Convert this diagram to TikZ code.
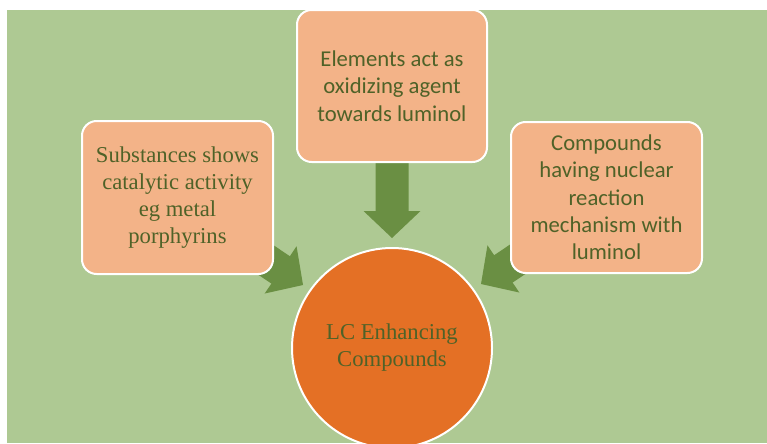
\documentclass[tikz,border=0pt]{standalone}
\usepackage{fontspec}
\setmainfont{Liberation Serif}
\newfontfamily\calibri{Carlito}
\definecolor{bggreen}{RGB}{174,201,147}
\definecolor{boxfill}{RGB}{243,179,136}
\definecolor{circfill}{RGB}{228,112,37}
\definecolor{arrowgreen}{RGB}{106,143,67}
\definecolor{textgreen}{RGB}{79,98,40}
\tikzset{
  box/.style={rectangle, rounded corners=11pt, draw=white, line width=1.5pt,
    fill=boxfill, text=textgreen, align=center, inner sep=0pt},
  serifbox/.style={box, font={\fontsize{17pt}{20.3pt}\selectfont}},
  sansbox/.style={box, font={\calibri\fontsize{17pt}{20.5pt}\selectfont}},
  centre/.style={circle, draw=white, line width=1.5pt, fill=circfill,
    text=textgreen, align=center, inner sep=0pt, minimum size=150pt,
    font={\fontsize{17pt}{20.3pt}\selectfont}},
  blockarrow/.style={fill=arrowgreen, draw=none}
}
\begin{document}
\begin{tikzpicture}[x=0.75pt,y=-0.75pt]
\useasboundingbox (0,0) rectangle (767,443);
\clip (0,0) rectangle (767,443);
\fill[white] (0,0) rectangle (767,443);
\fill[bggreen] (7,10) rectangle (767,443);

% node positions
\coordinate (lpos) at (177.5,197.5);
\coordinate (tpos) at (392,86);
\coordinate (rpos) at (606.5,197.5);
\coordinate (cpos) at (392,348);

% block arrows (drawn first so that boxes cover their tails)
\coordinate (ltip) at (303,285);
\coordinate (ttip) at (392,238);
\coordinate (rtip) at (481,284);
\begin{scope}[shift={(ltip)}, rotate=-34]
  \fill[blockarrow] (0,0) -- (-27,28.5) -- (-27,16.5) -- (-85,16.5) -- (-85,-16.5) -- (-27,-16.5) -- (-27,-28.5) -- cycle;
\end{scope}
\begin{scope}[shift={(ttip)}, rotate=-90]
  \fill[blockarrow] (0,0) -- (-27,28.5) -- (-27,16.5) -- (-90,16.5) -- (-90,-16.5) -- (-27,-16.5) -- (-27,-28.5) -- cycle;
\end{scope}
\begin{scope}[shift={(rtip)}, rotate=-146]
  \fill[blockarrow] (0,0) -- (-27,28.5) -- (-27,16.5) -- (-85,16.5) -- (-85,-16.5) -- (-27,-16.5) -- (-27,-28.5) -- cycle;
\end{scope}

\node[serifbox, minimum width=143.25pt, minimum height=114.75pt] (left) at (lpos)
  {Substances shows\\catalytic activity\\eg metal\\porphyrins};
\node[sansbox, minimum width=142.5pt, minimum height=114pt] (top) at (tpos)
  {Elements act as\\oxidizing agent\\towards luminol};
\node[sansbox, minimum width=143.25pt, minimum height=113.25pt] (right) at (rpos)
  {Compounds\\having nuclear\\reaction\\mechanism with\\luminol};
\node[centre] (centre) at (cpos) {LC Enhancing\\Compounds};
\end{tikzpicture}
\end{document}
